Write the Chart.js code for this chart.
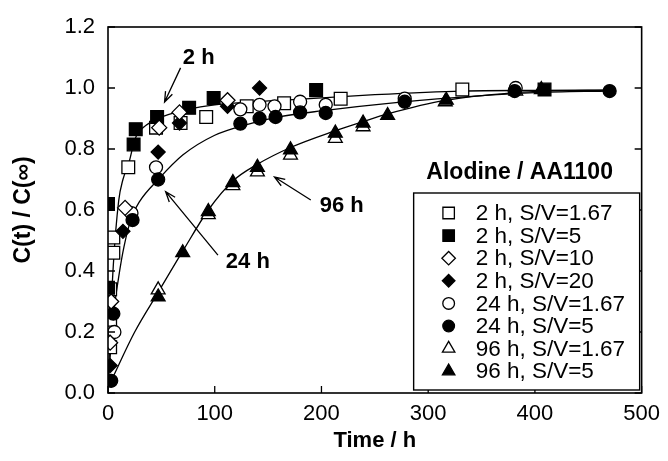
<!DOCTYPE html>
<html>
<head>
<meta charset="utf-8">
<script src="https://cdn.jsdelivr.net/npm/chart.js"></script>
<style>
body { margin: 0; background: #fff; }
#wrap { width: 668px; height: 461px; }
</style>
</head>
<body>
<div id="wrap"><canvas id="release_chart" width="668" height="461"></canvas></div>
<script>
// C(t)/C(inf) against time, Alodine on AA1100

var x_ticks = [0, 100, 200, 300, 400, 500];
var y_ticks = [0.0, 0.2, 0.4, 0.6, 0.8, 1.0, 1.2];

var series_labels = [
    '2 h, S/V=1.67', '2 h, S/V=5', '2 h, S/V=10', '2 h, S/V=20',
    '24 h, S/V=1.67', '24 h, S/V=5', '96 h, S/V=1.67', '96 h, S/V=5'
];

// measured points, time (h) and C(t)/C(inf)
var t_2h_167 = [2, 2, 2, 5, 5, 19, 45, 68, 92, 130, 165, 218, 332];
var c_2h_167 = [0.15, 0.24, 0.34, 0.46, 0.51, 0.74, 0.87, 0.885, 0.905, 0.94, 0.95, 0.965, 0.995];

var t_2h_5 = [0, 0, 24, 26, 46, 76, 99, 195, 409];
var c_2h_5 = [0.345, 0.62, 0.815, 0.865, 0.905, 0.935, 0.967, 0.993, 0.995];

var t_2h_10 = [2, 3, 16, 48, 67, 112];
var c_2h_10 = [0.165, 0.30, 0.607, 0.87, 0.92, 0.96];

var t_2h_20 = [2, 14, 47, 67, 112, 142];
var c_2h_20 = [0.09, 0.53, 0.79, 0.885, 0.94, 1.0];

var t_24h_167 = [6, 22, 45, 124, 142, 156, 180, 204, 278, 382];
var c_24h_167 = [0.2, 0.59, 0.74, 0.93, 0.945, 0.94, 0.955, 0.945, 0.965, 1.0];

var t_24h_5 = [3, 5, 23, 47, 124, 142, 157, 180, 204, 278, 381, 470];
var c_24h_5 = [0.04, 0.26, 0.567, 0.70, 0.883, 0.9, 0.905, 0.92, 0.918, 0.955, 0.99, 0.99];

var t_96h_167 = [47, 94, 117, 140, 171, 213, 239, 316, 382];
var c_96h_167 = [0.338, 0.585, 0.68, 0.725, 0.78, 0.835, 0.873, 0.955, 0.99];

var t_96h_5 = [47, 70, 94, 117, 140, 171, 213, 239, 262, 317, 406];
var c_96h_5 = [0.315, 0.46, 0.595, 0.69, 0.74, 0.797, 0.852, 0.885, 0.91, 0.96, 0.995];

// fitted curves
var fit_2h_t = [0, 2, 5, 10, 14, 20, 25, 30, 47, 75, 100, 164, 250, 332, 400, 470];
var fit_2h_c = [0, 0.2, 0.42, 0.63, 0.70, 0.76, 0.83, 0.86, 0.90, 0.93, 0.945, 0.96, 0.978, 0.99, 0.992, 0.993];

var fit_24h_t = [0, 5, 10, 15, 22, 30, 47, 70, 100, 130, 160, 200, 272, 350, 400, 470];
var fit_24h_c = [0.02, 0.25, 0.38, 0.48, 0.575, 0.63, 0.70, 0.78, 0.845, 0.88, 0.905, 0.925, 0.953, 0.975, 0.985, 0.99];

var fit_96h_t = [3, 25, 47, 70, 94, 117, 140, 171, 213, 239, 262, 317, 382, 409, 470];
var fit_96h_c = [0.04, 0.2, 0.33, 0.465, 0.6, 0.695, 0.75, 0.805, 0.86, 0.89, 0.915, 0.96, 0.985, 0.99, 0.993];

var release_chart;
var font_family = '"Liberation Sans", Arial, sans-serif';

document.addEventListener('DOMContentLoaded', function() {
    load_chart();
});

function to_points(ts, cs){
    let pts = [];
    ts.forEach((t, i) => {
        pts.push({x: t, y: cs[i]});
    });
    return pts;
}

function marker(label, ts, cs, style, filled, radius, order){
    return {
        label: label,
        data: to_points(ts, cs),
        showLine: false,
        pointStyle: style,
        pointRadius: radius,
        pointHoverRadius: radius,
        pointBackgroundColor: filled ? '#000' : '#fff',
        pointBorderColor: '#000',
        pointBorderWidth: 1.3,
        order: order
    };
}

function fit_line(ts, cs){
    return {
        label: '',
        data: to_points(ts, cs),
        showLine: true,
        borderColor: '#000',
        borderWidth: 1.3,
        pointRadius: 0,
        cubicInterpolationMode: 'monotone',
        order: 20
    };
}

var frame_plugin = {
    id: 'frame_plugin',
    afterDatasetsDraw(chart){
        var ctx = chart.ctx;
        var area = chart.chartArea;
        var xs = chart.scales.x;
        var ys = chart.scales.y;

        ctx.save();
        ctx.strokeStyle = '#000';
        ctx.lineWidth = 1.6;
        ctx.strokeRect(area.left, area.top, area.right - area.left, area.bottom - area.top);

        // inward ticks
        ctx.lineWidth = 1.3;
        ctx.beginPath();
        y_ticks.forEach((v) => {
            var py = ys.getPixelForValue(v);
            ctx.moveTo(area.left, py); ctx.lineTo(area.left + 7, py);
            ctx.moveTo(area.right, py); ctx.lineTo(area.right - 7, py);
        });
        x_ticks.forEach((v) => {
            var px = xs.getPixelForValue(v);
            ctx.moveTo(px, area.bottom); ctx.lineTo(px, area.bottom - 7);
        });
        ctx.stroke();

        // labelled arrows
        var notes = [
            {text: '2 h', tx: 85, ty: 1.098, x0: 68, y0: 1.066, x1: 53, y1: 0.954},
            {text: '24 h', tx: 131, ty: 0.43, x0: 103, y0: 0.452, x1: 54, y1: 0.66},
            {text: '96 h', tx: 219, ty: 0.613, x0: 190, y0: 0.633, x1: 156, y1: 0.708}
        ];
        ctx.font = 'bold 22px ' + font_family;
        ctx.fillStyle = '#000';
        ctx.textAlign = 'center';
        ctx.textBaseline = 'middle';
        notes.forEach((n) => {
            ctx.fillText(n.text, xs.getPixelForValue(n.tx), ys.getPixelForValue(n.ty));
            var ax = xs.getPixelForValue(n.x0), ay = ys.getPixelForValue(n.y0);
            var bx = xs.getPixelForValue(n.x1), by = ys.getPixelForValue(n.y1);
            var ang = Math.atan2(by - ay, bx - ax);
            ctx.beginPath();
            ctx.moveTo(ax, ay); ctx.lineTo(bx, by);
            ctx.moveTo(bx - 11 * Math.cos(ang - 0.35), by - 11 * Math.sin(ang - 0.35));
            ctx.lineTo(bx, by);
            ctx.lineTo(bx - 11 * Math.cos(ang + 0.35), by - 11 * Math.sin(ang + 0.35));
            ctx.stroke();
        });

        // legend
        var box_l = area.right - 228, box_r = area.right - 2;
        var box_b = area.bottom - 3, box_t = area.bottom - 200;
        ctx.font = 'bold 23px ' + font_family;
        ctx.fillText('Alodine / AA1100', area.right - 122, box_t - 20);
        ctx.fillStyle = '#fff';
        ctx.fillRect(box_l, box_t, box_r - box_l, box_b - box_t);
        ctx.lineWidth = 1.4;
        ctx.strokeRect(box_l, box_t, box_r - box_l, box_b - box_t);

        ctx.font = '22.5px ' + font_family;
        ctx.textAlign = 'left';
        var markers = chart.data.datasets.filter((d) => d.label !== '');
        markers.forEach((d, i) => {
            var ry = box_t + 20 + i * 22.6;
            ctx.fillStyle = d.pointBackgroundColor;
            ctx.strokeStyle = '#000';
            ctx.lineWidth = 1.3;
            Chart.helpers.drawPoint(ctx, {pointStyle: d.pointStyle, radius: d.pointRadius * 0.9, rotation: 0, borderWidth: 1.3}, box_l + 35, ry);
            ctx.fillStyle = '#000';
            ctx.fillText(d.label, box_l + 62, ry + 1);
        });
        ctx.restore();
    }
};

function load_chart(){
    var ctx = document.getElementById('release_chart');

    release_chart = new Chart(ctx, {
        type: 'scatter',
        data: {
            datasets: [
                marker(series_labels[0], t_2h_167, c_2h_167, 'rect', false, 9, 8),
                marker(series_labels[1], t_2h_5, c_2h_5, 'rect', true, 9, 7),
                marker(series_labels[2], t_2h_10, c_2h_10, 'rectRot', false, 7.5, 1),
                marker(series_labels[3], t_2h_20, c_2h_20, 'rectRot', true, 7, 2),
                marker(series_labels[4], t_24h_167, c_24h_167, 'circle', false, 6.5, 4),
                marker(series_labels[5], t_24h_5, c_24h_5, 'circle', true, 6.5, 3),
                marker(series_labels[6], t_96h_167, c_96h_167, 'triangle', false, 8, 6),
                marker(series_labels[7], t_96h_5, c_96h_5, 'triangle', true, 8, 5),
                fit_line(fit_2h_t, fit_2h_c),
                fit_line(fit_24h_t, fit_24h_c),
                fit_line(fit_96h_t, fit_96h_c)
            ]
        },
        options: {
            responsive: false,
            animation: false,
            layout: {
                padding: {left: 0, top: 27, right: 25, bottom: 0}
            },
            scales: {
                x: {
                    type: 'linear',
                    min: 0,
                    max: 500,
                    afterFit: function(scale) { scale.height = 68; },
                    grid: {display: false, drawTicks: false},
                    border: {display: false},
                    ticks: {
                        stepSize: 100,
                        padding: 8,
                        color: '#000',
                        font: {family: font_family, size: 22}
                    },
                    title: {
                        display: true,
                        text: 'Time / h',
                        color: '#000',
                        padding: {top: 0, bottom: 7},
                        font: {family: font_family, size: 22, weight: 'bold'}
                    }
                },
                y: {
                    type: 'linear',
                    min: 0,
                    max: 1.2,
                    afterFit: function(scale) { scale.width = 108; },
                    grid: {display: false, drawTicks: false},
                    border: {display: false},
                    ticks: {
                        stepSize: 0.2,
                        padding: 13,
                        color: '#000',
                        font: {family: font_family, size: 22},
                        callback: function(v) { return v.toFixed(1); }
                    },
                    title: {
                        display: true,
                        text: 'C(t) / C(\u221E)',
                        color: '#000',
                        padding: {top: 10, bottom: 0},
                        font: {family: font_family, size: 23, weight: 'bold'}
                    }
                }
            },
            plugins: {
                legend: {display: false},
                tooltip: {enabled: false}
            }
        },
        plugins: [frame_plugin]
    });
}
</script>
</body>
</html>
